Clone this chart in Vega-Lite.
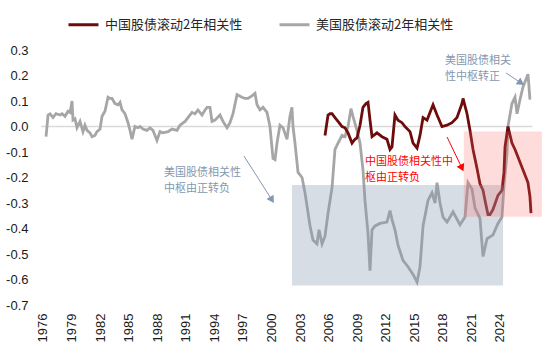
{
  "$schema": "https://vega.github.io/schema/vega-lite/v6.json",
  "width": 505,
  "height": 255,
  "autosize": {"type": "none"},
  "padding": {"left": 40, "top": 50, "right": 5, "bottom": 48},
  "config": {"view": {"stroke": null}, "font": "Liberation Sans"},
  "datasets": {
    "us": [
      {"t":1976.32,"v":-0.04},{"t":1976.53,"v":0.045},{"t":1976.74,"v":0.05},{"t":1977.05,"v":0.035},{"t":1977.37,"v":0.05},
      {"t":1977.79,"v":0.045},{"t":1978.00,"v":0.05},{"t":1978.31,"v":0.04},{"t":1978.63,"v":0.06},{"t":1978.84,"v":0.055},
      {"t":1979.05,"v":0.10},{"t":1979.15,"v":0.025},{"t":1979.36,"v":0.03},{"t":1979.57,"v":-0.005},{"t":1979.89,"v":0.02},
      {"t":1980.20,"v":-0.02},{"t":1980.41,"v":0.005},{"t":1980.62,"v":-0.015},{"t":1980.94,"v":-0.025},{"t":1981.15,"v":-0.04},
      {"t":1981.46,"v":-0.035},{"t":1981.67,"v":-0.02},{"t":1981.99,"v":-0.01},{"t":1982.20,"v":0.04},{"t":1982.51,"v":0.06},
      {"t":1982.83,"v":0.115},{"t":1983.04,"v":0.11},{"t":1983.25,"v":0.11},{"t":1983.56,"v":0.09},{"t":1983.88,"v":0.085},
      {"t":1984.09,"v":0.095},{"t":1984.30,"v":0.065},{"t":1984.61,"v":0.05},{"t":1984.93,"v":0.015},{"t":1985.14,"v":-0.015},
      {"t":1985.35,"v":-0.05},{"t":1985.66,"v":0.0},{"t":1985.98,"v":-0.005},{"t":1986.19,"v":0.0},{"t":1986.50,"v":-0.01},
      {"t":1986.92,"v":-0.015},{"t":1987.24,"v":-0.005},{"t":1987.55,"v":-0.015},{"t":1987.97,"v":-0.055},{"t":1988.29,"v":-0.02},
      {"t":1988.60,"v":-0.025},{"t":1989.13,"v":-0.02},{"t":1989.55,"v":-0.01},{"t":1990.08,"v":-0.015},{"t":1990.39,"v":0.005},
      {"t":1990.92,"v":0.02},{"t":1991.23,"v":0.035},{"t":1991.65,"v":0.055},{"t":1991.97,"v":0.05},{"t":1992.28,"v":0.065},
      {"t":1992.70,"v":0.045},{"t":1993.02,"v":0.065},{"t":1993.23,"v":0.075},{"t":1993.54,"v":0.075},{"t":1993.75,"v":0.02},
      {"t":1994.07,"v":0.025},{"t":1994.59,"v":0.045},{"t":1994.91,"v":0.02},{"t":1995.33,"v":-0.005},{"t":1995.64,"v":0.015},
      {"t":1995.96,"v":0.05},{"t":1996.38,"v":0.125},{"t":1996.90,"v":0.115},{"t":1997.22,"v":0.11},{"t":1997.53,"v":0.11},
      {"t":1997.95,"v":0.12},{"t":1998.27,"v":0.13},{"t":1998.48,"v":0.085},{"t":1998.79,"v":0.065},{"t":1999.11,"v":0.075},
      {"t":1999.53,"v":0.055},{"t":1999.84,"v":0.0},{"t":2000.16,"v":-0.125},{"t":2000.37,"v":-0.13},{"t":2000.58,"v":-0.065},
      {"t":2000.89,"v":0.005},{"t":2001.21,"v":-0.005},{"t":2001.63,"v":-0.05},{"t":2001.94,"v":0.04},{"t":2002.15,"v":0.075},
      {"t":2002.26,"v":0.0},{"t":2002.47,"v":-0.065},{"t":2002.79,"v":-0.18},{"t":2003.21,"v":-0.2},{"t":2003.52,"v":-0.26},
      {"t":2004.05,"v":-0.39},{"t":2004.36,"v":-0.445},{"t":2004.78,"v":-0.46},{"t":2004.99,"v":-0.405},{"t":2005.31,"v":-0.46},
      {"t":2005.62,"v":-0.43},{"t":2005.94,"v":-0.34},{"t":2006.36,"v":-0.24},{"t":2006.67,"v":-0.09},{"t":2006.99,"v":-0.065},
      {"t":2007.41,"v":-0.035},{"t":2007.72,"v":-0.04},{"t":2008.04,"v":0.0},{"t":2008.35,"v":0.07},{"t":2008.56,"v":0.04},
      {"t":2008.98,"v":-0.015},{"t":2009.30,"v":-0.065},{"t":2009.61,"v":-0.17},{"t":2009.82,"v":-0.29},{"t":2010.14,"v":-0.42},
      {"t":2010.35,"v":-0.565},{"t":2010.56,"v":-0.405},{"t":2010.87,"v":-0.39},{"t":2011.40,"v":-0.38},{"t":2012.13,"v":-0.375},
      {"t":2012.45,"v":-0.33},{"t":2012.66,"v":-0.365},{"t":2012.97,"v":-0.405},{"t":2013.29,"v":-0.465},{"t":2013.81,"v":-0.525},
      {"t":2014.34,"v":-0.55},{"t":2014.87,"v":-0.58},{"t":2015.29,"v":-0.61},{"t":2015.60,"v":-0.55},{"t":2015.92,"v":-0.39},
      {"t":2016.44,"v":-0.29},{"t":2016.86,"v":-0.26},{"t":2017.18,"v":-0.30},{"t":2017.39,"v":-0.22},{"t":2017.70,"v":-0.30},
      {"t":2018.02,"v":-0.355},{"t":2018.44,"v":-0.375},{"t":2019.07,"v":-0.335},{"t":2019.80,"v":-0.385},{"t":2020.33,"v":-0.355},
      {"t":2020.64,"v":-0.22},{"t":2021.06,"v":-0.245},{"t":2021.38,"v":-0.32},{"t":2021.90,"v":-0.36},{"t":2022.22,"v":-0.51},
      {"t":2022.64,"v":-0.44},{"t":2023.27,"v":-0.425},{"t":2023.79,"v":-0.38},{"t":2024.21,"v":-0.355},{"t":2024.42,"v":-0.235},
      {"t":2024.74,"v":-0.105},{"t":2024.84,"v":0.0},{"t":2025.26,"v":0.09},{"t":2025.58,"v":0.115},{"t":2025.79,"v":0.05},
      {"t":2026.10,"v":0.105},{"t":2026.42,"v":0.155},{"t":2026.84,"v":0.195},{"t":2026.94,"v":0.205},{"t":2027.05,"v":0.155},
      {"t":2027.15,"v":0.105}
    ],
    "cn": [
      {"t":2005.62,"v":-0.035},{"t":2005.94,"v":0.045},{"t":2006.15,"v":0.05},{"t":2006.36,"v":0.05},{"t":2006.67,"v":0.035},
      {"t":2006.99,"v":0.02},{"t":2007.41,"v":0.0},{"t":2007.72,"v":-0.005},{"t":2008.04,"v":-0.025},{"t":2008.46,"v":-0.065},
      {"t":2008.77,"v":-0.05},{"t":2008.98,"v":-0.045},{"t":2009.30,"v":0.005},{"t":2009.61,"v":0.075},{"t":2009.93,"v":0.09},
      {"t":2010.14,"v":0.095},{"t":2010.35,"v":0.025},{"t":2010.56,"v":-0.04},{"t":2011.08,"v":-0.025},{"t":2011.61,"v":-0.04},
      {"t":2012.13,"v":-0.05},{"t":2012.45,"v":-0.09},{"t":2012.66,"v":-0.08},{"t":2012.97,"v":0.045},{"t":2013.29,"v":0.025},
      {"t":2013.71,"v":0.015},{"t":2014.02,"v":0.0},{"t":2014.55,"v":-0.02},{"t":2014.87,"v":-0.065},{"t":2015.29,"v":-0.085},
      {"t":2015.60,"v":-0.035},{"t":2015.92,"v":0.035},{"t":2016.34,"v":0.025},{"t":2016.65,"v":0.055},{"t":2016.97,"v":0.085},
      {"t":2017.39,"v":0.045},{"t":2017.91,"v":0.0},{"t":2018.44,"v":0.005},{"t":2018.96,"v":0.015},{"t":2019.49,"v":0.035},
      {"t":2020.01,"v":0.09},{"t":2020.12,"v":0.11},{"t":2020.54,"v":0.05},{"t":2020.85,"v":-0.015},{"t":2021.17,"v":-0.09},
      {"t":2021.59,"v":-0.165},{"t":2021.90,"v":-0.225},{"t":2022.22,"v":-0.25},{"t":2022.43,"v":-0.29},{"t":2022.74,"v":-0.345},
      {"t":2022.95,"v":-0.345},{"t":2023.27,"v":-0.325},{"t":2023.79,"v":-0.27},{"t":2024.21,"v":-0.25},{"t":2024.42,"v":-0.18},
      {"t":2024.53,"v":-0.08},{"t":2024.84,"v":0.0},{"t":2025.26,"v":-0.065},{"t":2025.58,"v":-0.09},{"t":2025.89,"v":-0.12},
      {"t":2026.31,"v":-0.16},{"t":2026.63,"v":-0.19},{"t":2026.94,"v":-0.22},{"t":2027.15,"v":-0.275},{"t":2027.26,"v":-0.34}
    ]
  },
  "encoding": {
    "x": {"field": "t", "type": "quantitative",
      "scale": {"domain": [1975.685, 2028.73], "nice": false, "zero": false},
      "axis": {"title": null, "values": [1976,1979,1982,1985,1988,1991,1994,1997,2000,2003,2006,2009,2012,2015,2018,2021,2024],
        "format": "d", "labelAngle": -90, "labelFontSize": 13, "labelColor": "#1a1a1a", "labelPadding": 8,
        "ticks": false, "domain": false, "grid": false, "labelFlush": false, "labelOverlap": false, "labelBound": false}},
    "y": {"field": "v", "type": "quantitative",
      "scale": {"domain": [-0.7, 0.3], "nice": false, "zero": false},
      "axis": {"title": null, "values": [-0.7,-0.6,-0.5,-0.4,-0.3,-0.2,-0.1,0,0.1,0.2,0.3],
        "labelExpr": "replace(format(datum.value, '.1f'), '−', '-')", "labelFontSize": 13, "labelColor": "#1a1a1a",
        "labelPadding": 12, "ticks": false, "domain": false, "grid": false, "labelFlush": false, "labelOverlap": false}}
  },
  "layer": [
    {
      "data": {"values": [{"t": 1975.8, "t2": 2027.4, "v": 0}]},
      "mark": {"type": "rule", "color": "#D9D9D9", "strokeWidth": 1.5},
      "encoding": {"x2": {"field": "t2"}}
    },
    {
      "data": {"name": "us"},
      "mark": {"type": "line", "strokeWidth": 2.8},
      "encoding": {
        "color": {"datum": "美国股债滚动2年相关性", "type": "nominal",
          "scale": {"domain": ["中国股债滚动2年相关性", "美国股债滚动2年相关性"], "range": ["#6E0B0B", "#A6A6A6"]},
          "legend": {"title": null, "orient": "none", "legendX": 27, "legendY": -42, "direction": "horizontal",
            "symbolType": "stroke", "symbolStrokeWidth": 3, "symbolSize": 900, "labelFont": "Noto Sans CJK SC",
            "labelFontSize": 13, "labelColor": "#262626", "columnPadding": 30, "labelOffset": 5}}
      }
    },
    {
      "data": {"name": "cn"},
      "mark": {"type": "line", "strokeWidth": 2.8},
      "encoding": {
        "color": {"datum": "中国股债滚动2年相关性", "type": "nominal"}
      }
    },
    {
      "data": {"values": [{"t": 2002.15, "t2": 2024.32, "v": -0.229, "v2": -0.624}]},
      "mark": {"type": "rect", "color": "#8497B0", "opacity": 0.33},
      "encoding": {"x2": {"field": "t2"}, "y2": {"field": "v2"}}
    },
    {
      "data": {"values": [{"t": 2020.2, "t2": 2028.4, "v": -0.02, "v2": -0.354}]},
      "mark": {"type": "rect", "color": "#FF6666", "opacity": 0.23},
      "encoding": {"x2": {"field": "t2"}, "y2": {"field": "v2"}}
    },
    {
      "data": {"values": [{"t": 1997.11, "v": -0.116, "t2": 2000.05, "v2": -0.288}]},
      "mark": {"type": "rule", "color": "#8497B0", "strokeWidth": 1},
      "encoding": {"x2": {"field": "t2"}, "y2": {"field": "v2"}}
    },
    {
      "data": {"values": [{"t": 2000.05, "v": -0.288}]},
      "mark": {"type": "point", "shape": "triangle-up", "filled": true, "color": "#8497B0", "opacity": 1, "size": 70, "angle": 148}
    },
    {
      "data": {"values": [{"t": 2024.63, "v": 0.21, "t2": 2026.21, "v2": 0.171}]},
      "mark": {"type": "rule", "color": "#8497B0", "strokeWidth": 1},
      "encoding": {"x2": {"field": "t2"}, "y2": {"field": "v2"}}
    },
    {
      "data": {"values": [{"t": 2026.21, "v": 0.171}]},
      "mark": {"type": "point", "shape": "triangle-up", "filled": true, "color": "#8497B0", "opacity": 1, "size": 70, "angle": 124}
    },
    {
      "data": {"values": [{"t": 2018.44, "v": -0.041, "t2": 2020.01, "v2": -0.163}]},
      "mark": {"type": "rule", "color": "#FF0000", "strokeWidth": 1},
      "encoding": {"x2": {"field": "t2"}, "y2": {"field": "v2"}}
    },
    {
      "data": {"values": [{"t": 2020.01, "v": -0.163}]},
      "mark": {"type": "point", "shape": "triangle-up", "filled": true, "color": "#FF0000", "opacity": 1, "size": 70, "angle": 154}
    },
    {
      "data": {"values": [
        {"t": 1988.71, "v": -0.184, "label": "美国股债相关性"},
        {"t": 1988.71, "v": -0.245, "label": "中枢由正转负"},
        {"t": 2018.23, "v": 0.255, "label": "美国股债相关"},
        {"t": 2018.23, "v": 0.194, "label": "性中枢转正"}
      ]},
      "mark": {"type": "text", "align": "left", "baseline": "middle", "font": "Noto Sans CJK SC", "fontSize": 11, "color": "#8497B0"},
      "encoding": {"text": {"field": "label"}}
    },
    {
      "data": {"values": [
        {"t": 2009.82, "v": -0.141, "label": "中国股债相关性中"},
        {"t": 2009.82, "v": -0.2, "label": "枢由正转负"}
      ]},
      "mark": {"type": "text", "align": "left", "baseline": "middle", "font": "Noto Sans CJK SC", "fontSize": 11, "color": "#FF0000"},
      "encoding": {"text": {"field": "label"}}
    }
  ]
}
